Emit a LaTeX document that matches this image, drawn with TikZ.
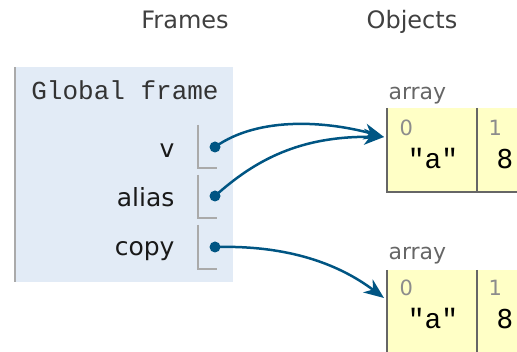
\documentclass[tikz,border=0pt]{standalone}
\usepackage{fontspec}
\setmainfont{DejaVu Sans}
\newfontfamily\codefont{Liberation Mono}
\usetikzlibrary{arrows.meta}
\definecolor{framebg}{HTML}{E2EBF6}
\definecolor{heapbg}{HTML}{FFFFC6}
\definecolor{ptrcol}{HTML}{005583}
\definecolor{rulegray}{HTML}{AAAAAA}
\definecolor{cellgray}{HTML}{666666}
\tikzset{
  head/.style={anchor=base, font=\fontsize{24}{28}\selectfont, text=black!75},
  varname/.style={anchor=base east, font=\fontsize{25}{30}\selectfont, text=black!90},
  ptrbox/.style={draw=rulegray, line width=1.5pt},
  dot/.style={circle, fill=ptrcol, inner sep=0pt, minimum size=11pt},
  ptr/.style={draw=ptrcol, line width=2.5pt, -{Stealth[length=20pt,width=16pt,inset=6pt]}},
  cell/.style={fill=heapbg, minimum width=90pt, minimum height=84pt, inner sep=0pt},
  cellline/.style={draw=cellgray, line width=2pt},
  idx/.style={anchor=base west, font=\fontsize{21}{24}\selectfont, text=black!45},
  val/.style={anchor=base, font=\fontsize{26}{30}\selectfont},
  typename/.style={anchor=base west, font=\fontsize{22}{26}\selectfont, text=black!60}
}
\begin{document}
\begin{tikzpicture}[x=1pt,y=-1pt]
  \useasboundingbox (0,0) rectangle (517,352);
  \clip (0,0) rectangle (517,352);
  % headings
  \node[head] (frames) at (185,29) {Frames};
  \node[head] (objects) at (412,29) {Objects};
  % global frame
  \node[fill=framebg, minimum width=218pt, minimum height=215pt, inner sep=0pt] (gframe) at (124,174.5) {};
  \draw[rulegray, line width=2pt] (gframe.north west) -- (gframe.south west);
  \node[anchor=base, font=\codefont\fontsize{26}{30}\selectfont, text=black!80] (gtitle) at (125,100) {Global frame};
  \node[varname] (v) at (178,158) {v};
  \node[varname] (alias) at (178,207) {alias};
  \node[varname] (copy) at (178,256) {copy};
  \draw[ptrbox] (198,125) |- (217,168);
  \draw[ptrbox] (198,175) |- (217,218);
  \draw[ptrbox] (198,225) |- (217,269);
  \node[dot] (vdot) at (215,147) {};
  \node[dot] (aliasdot) at (215,196) {};
  \node[dot] (copydot) at (215,247) {};
  % first array
  \node[typename] (arrAtype) at (385,100) {array};
  \node[cell] (arrA0) at (432,150) {};
  \node[cell] (arrA1) at (522,150) {};
  \draw[cellline] (arrA0.north west) |- (arrA0.south east);
  \draw[cellline] (arrA1.north west) |- (arrA1.south east);
  \node[idx] (arrA0i) at (396,136) {0};
  \node[idx] (arrA1i) at (485,136) {1};
  \node[val, font=\codefont\fontsize{28}{30}\selectfont] (arrA0v) at (433,169) {\symbol{34}a\symbol{34}};
  \node[val] (arrA1v) at (505,169) {8};
  % second array
  \node[typename] (arrBtype) at (385,260) {array};
  \node[cell] (arrB0) at (432,312) {};
  \node[cell] (arrB1) at (522,312) {};
  \draw[cellline] (arrB0.north west) |- (arrB0.south east);
  \draw[cellline] (arrB1.north west) |- (arrB1.south east);
  \node[idx] (arrB0i) at (396,296) {0};
  \node[idx] (arrB1i) at (485,296) {1};
  \node[val, font=\codefont\fontsize{28}{30}\selectfont] (arrB0v) at (433,329) {\symbol{34}a\symbol{34}};
  \node[val] (arrB1v) at (505,329) {8};
  % pointers
  \coordinate (arrAin) at (384,137);
  \coordinate (arrBin) at (384,298);
  \draw[ptr] (vdot.center) .. controls (260,115) and (330,122) .. (arrAin);
  \draw[ptr] (aliasdot.center) .. controls (255,160) and (300,136) .. (arrAin);
  \draw[ptr] (copydot.center) .. controls (290,245) and (340,265) .. (arrBin);
\end{tikzpicture}
\end{document}
